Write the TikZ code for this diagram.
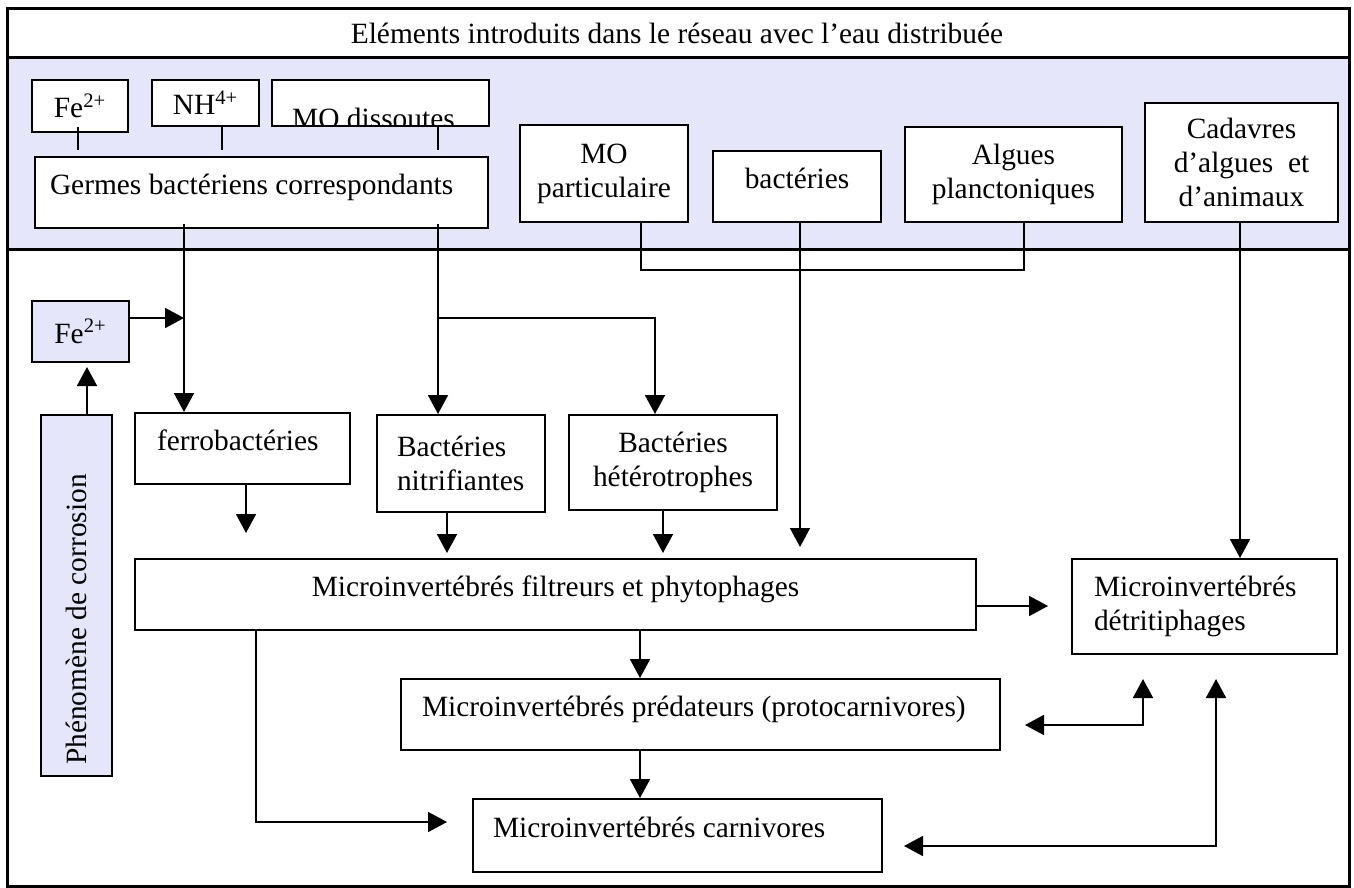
\documentclass[tikz,border=0pt]{standalone}
\usepackage{fontspec}
\setmainfont{Liberation Serif}
\usetikzlibrary{arrows.meta,calc}
\definecolor{lav}{RGB}{230,230,250}
\begin{document}
\fontsize{14.7}{17}\selectfont
\begin{tikzpicture}[x=0.5pt,y=-0.5pt,
  box/.style={draw, line width=1pt, fill=white, inner sep=0pt, align=center},
  bbox/.style={box, fill=lav},
  tx/.style={text height=10pt, text depth=8pt},
  lft/.style={align=flush left, inner xsep=#1},
  conn/.style={line width=0.9pt},
  arr/.style={conn, -{Triangle[length=9.5pt,width=10pt]}},
  darr/.style={conn, {Triangle[length=9.5pt,width=10pt]}-{Triangle[length=9.5pt,width=10pt]}},
  frame/.style={line width=1.5pt}]
\useasboundingbox (0,0) rectangle (1354,888);
% band
\fill[lav] (7,58) rectangle (1349,249);
\node (title) at (677,33.5) {Eléments introduits dans le réseau avec l’eau distribuée};
% top row
\node[box, minimum width=48pt, minimum height=26pt] (fe1) at (80,106) {Fe\textsuperscript{2+}};
\node[box, minimum width=53.5pt, minimum height=23pt] (nh) at (205.5,103) {NH\textsuperscript{4+}};
\node[box, minimum width=108.5pt, minimum height=23pt,
  path picture={\node[anchor=base, inner sep=0pt] at ([xshift=-3.5pt,yshift=-1pt]path picture bounding box.south) {MO dissoutes};}] (mod) at (380.5,103) {};
\node[box, tx, lft=7.5pt, text width=211.5pt, minimum height=35.5pt] (germes) at (261.5,192.5) {Germes bactériens correspondants};
\node[box, minimum width=84pt, minimum height=48.5pt] (mop) at (604,173.5) {MO\\particulaire};
\node[box, tx, minimum width=84pt, minimum height=35.5pt] (bac) at (797,186.5) {bactéries};
\node[box, minimum width=108.5pt, minimum height=47.5pt] (alg) at (1013.5,174.5) {Algues\\planctoniques};
\node[box, minimum width=96.5pt, minimum height=59.5pt] (cad) at (1241.5,162.5) {Cadavres\\d’algues\ \ et\\d’animaux};
% lower part
\node[bbox, minimum width=48.5pt, minimum height=30.5pt] (fe2) at (80.5,331.5) {Fe\textsuperscript{2+}};
\node[bbox, minimum width=35.5pt, minimum height=180.5pt,
  path picture={\node[rotate=90, inner sep=0pt] at ([yshift=-12pt]path picture bounding box.center) {Phénomène de corrosion};}] (corr) at (76.5,595.5) {};
\node[box, tx, lft=11pt, text width=85.5pt, minimum height=35.5pt] (ferro) at (242.5,448.5) {ferrobactéries};
\node[box, lft=10pt, text width=64pt, minimum height=48.5pt] (nit) at (461,463.5) {Bactéries\\nitrifiantes};
\node[box, minimum width=104pt, minimum height=47.5pt] (het) at (673,462.5) {Bactéries\\hétérotrophes};
\node[box, tx, minimum width=420.5pt, minimum height=35.5pt] (filt) at (555.5,594.5) {Microinvertébrés filtreurs et phytophages};
\node[box, lft=11pt, text width=110.5pt, minimum height=47.5pt] (det) at (1204.5,606.5) {Microinvertébrés\\détritiphages};
\node[box, tx, lft=10.5pt, text width=278.5pt, minimum height=35.5pt] (pred) at (700.5,714.5) {Microinvertébrés prédateurs (protocarnivores)};
\node[box, tx, lft=10pt, text width=184.5pt, minimum height=36.5pt] (carn) at (677.5,835.5) {Microinvertébrés carnivores};
% coordinates
\coordinate (kFe) at (78,0);
\coordinate (kNH) at (222,0);
\coordinate (kMO) at (438,0);
\coordinate (kG1) at (184,0);
\coordinate (jFe) at (184,318);
\coordinate (jBr) at (438,318);
\coordinate (kHet) at (655,0);
\coordinate (kMop) at (641,0);
\coordinate (kAlg) at (1024,0);
\coordinate (yBr) at (0,270);
\coordinate (tBac) at (800,547);
\coordinate (kCad) at (1240,0);
\coordinate (tFer) at (246,533);
\coordinate (tNit) at (447,553);
\coordinate (tHet) at (663,553);
\coordinate (tFD) at (1048,606);
\coordinate (kFP) at (640,0);
\coordinate (kFC) at (256,0);
\coordinate (tFC) at (447,822);
\coordinate (tPD1) at (1025,725);
\coordinate (tPD2) at (1143,679);
\coordinate (tCD1) at (904,846);
\coordinate (tCD2) at (1216,679);
\coordinate (kCF) at (87,0);
\coordinate (tCF) at (87,367);
% connectors
\draw[conn] ($(fe1.south -| kFe)+(0,-6)$) -- ($(germes.north -| kFe)+(0,-6)$);
\draw[conn] (nh.south -| kNH) -- ($(germes.north -| kNH)+(0,-6)$);
\draw[conn] (mod.south -| kMO) -- ($(germes.north -| kMO)+(0,-6)$);
\draw[arr] ($(germes.south -| kG1)+(0,-5)$) -- (ferro.north -| kG1);
\draw[arr] (fe2.east |- jFe) -- (jFe);
\draw[arr] ($(germes.south -| kMO)+(0,-5)$) -- (nit.north -| kMO);
\draw[arr] (jBr) -| (het.north -| kHet);
\draw[conn] (mop.south -| kMop) |- (yBr -| kAlg) -- (alg.south -| kAlg);
\draw[arr] (bac.south -| tBac) -- (tBac);
\draw[arr] (cad.south -| kCad) -- (det.north -| kCad);
\draw[arr] (ferro.south -| tFer) -- (tFer);
\draw[arr] (nit.south -| tNit) -- (tNit);
\draw[arr] (het.south -| tHet) -- (tHet);
\draw[arr] (filt.east |- tFD) -- (tFD);
\draw[arr] (filt.south -| kFP) -- (pred.north -| kFP);
\draw[arr] (pred.south -| kFP) -- (carn.north -| kFP);
\draw[arr] (filt.south -| kFC) |- (tFC);
\draw[darr] (tPD1) -| (tPD2);
\draw[darr] (tCD1) -| (tCD2);
\draw[arr] (corr.north -| kCF) -- (tCF);
% frame
\draw[frame] (7,9) rectangle (1349,886);
\draw[frame] (7,58) -- (1349,58);
\draw[frame] (7,249) -- (1349,249);
\end{tikzpicture}
\end{document}
